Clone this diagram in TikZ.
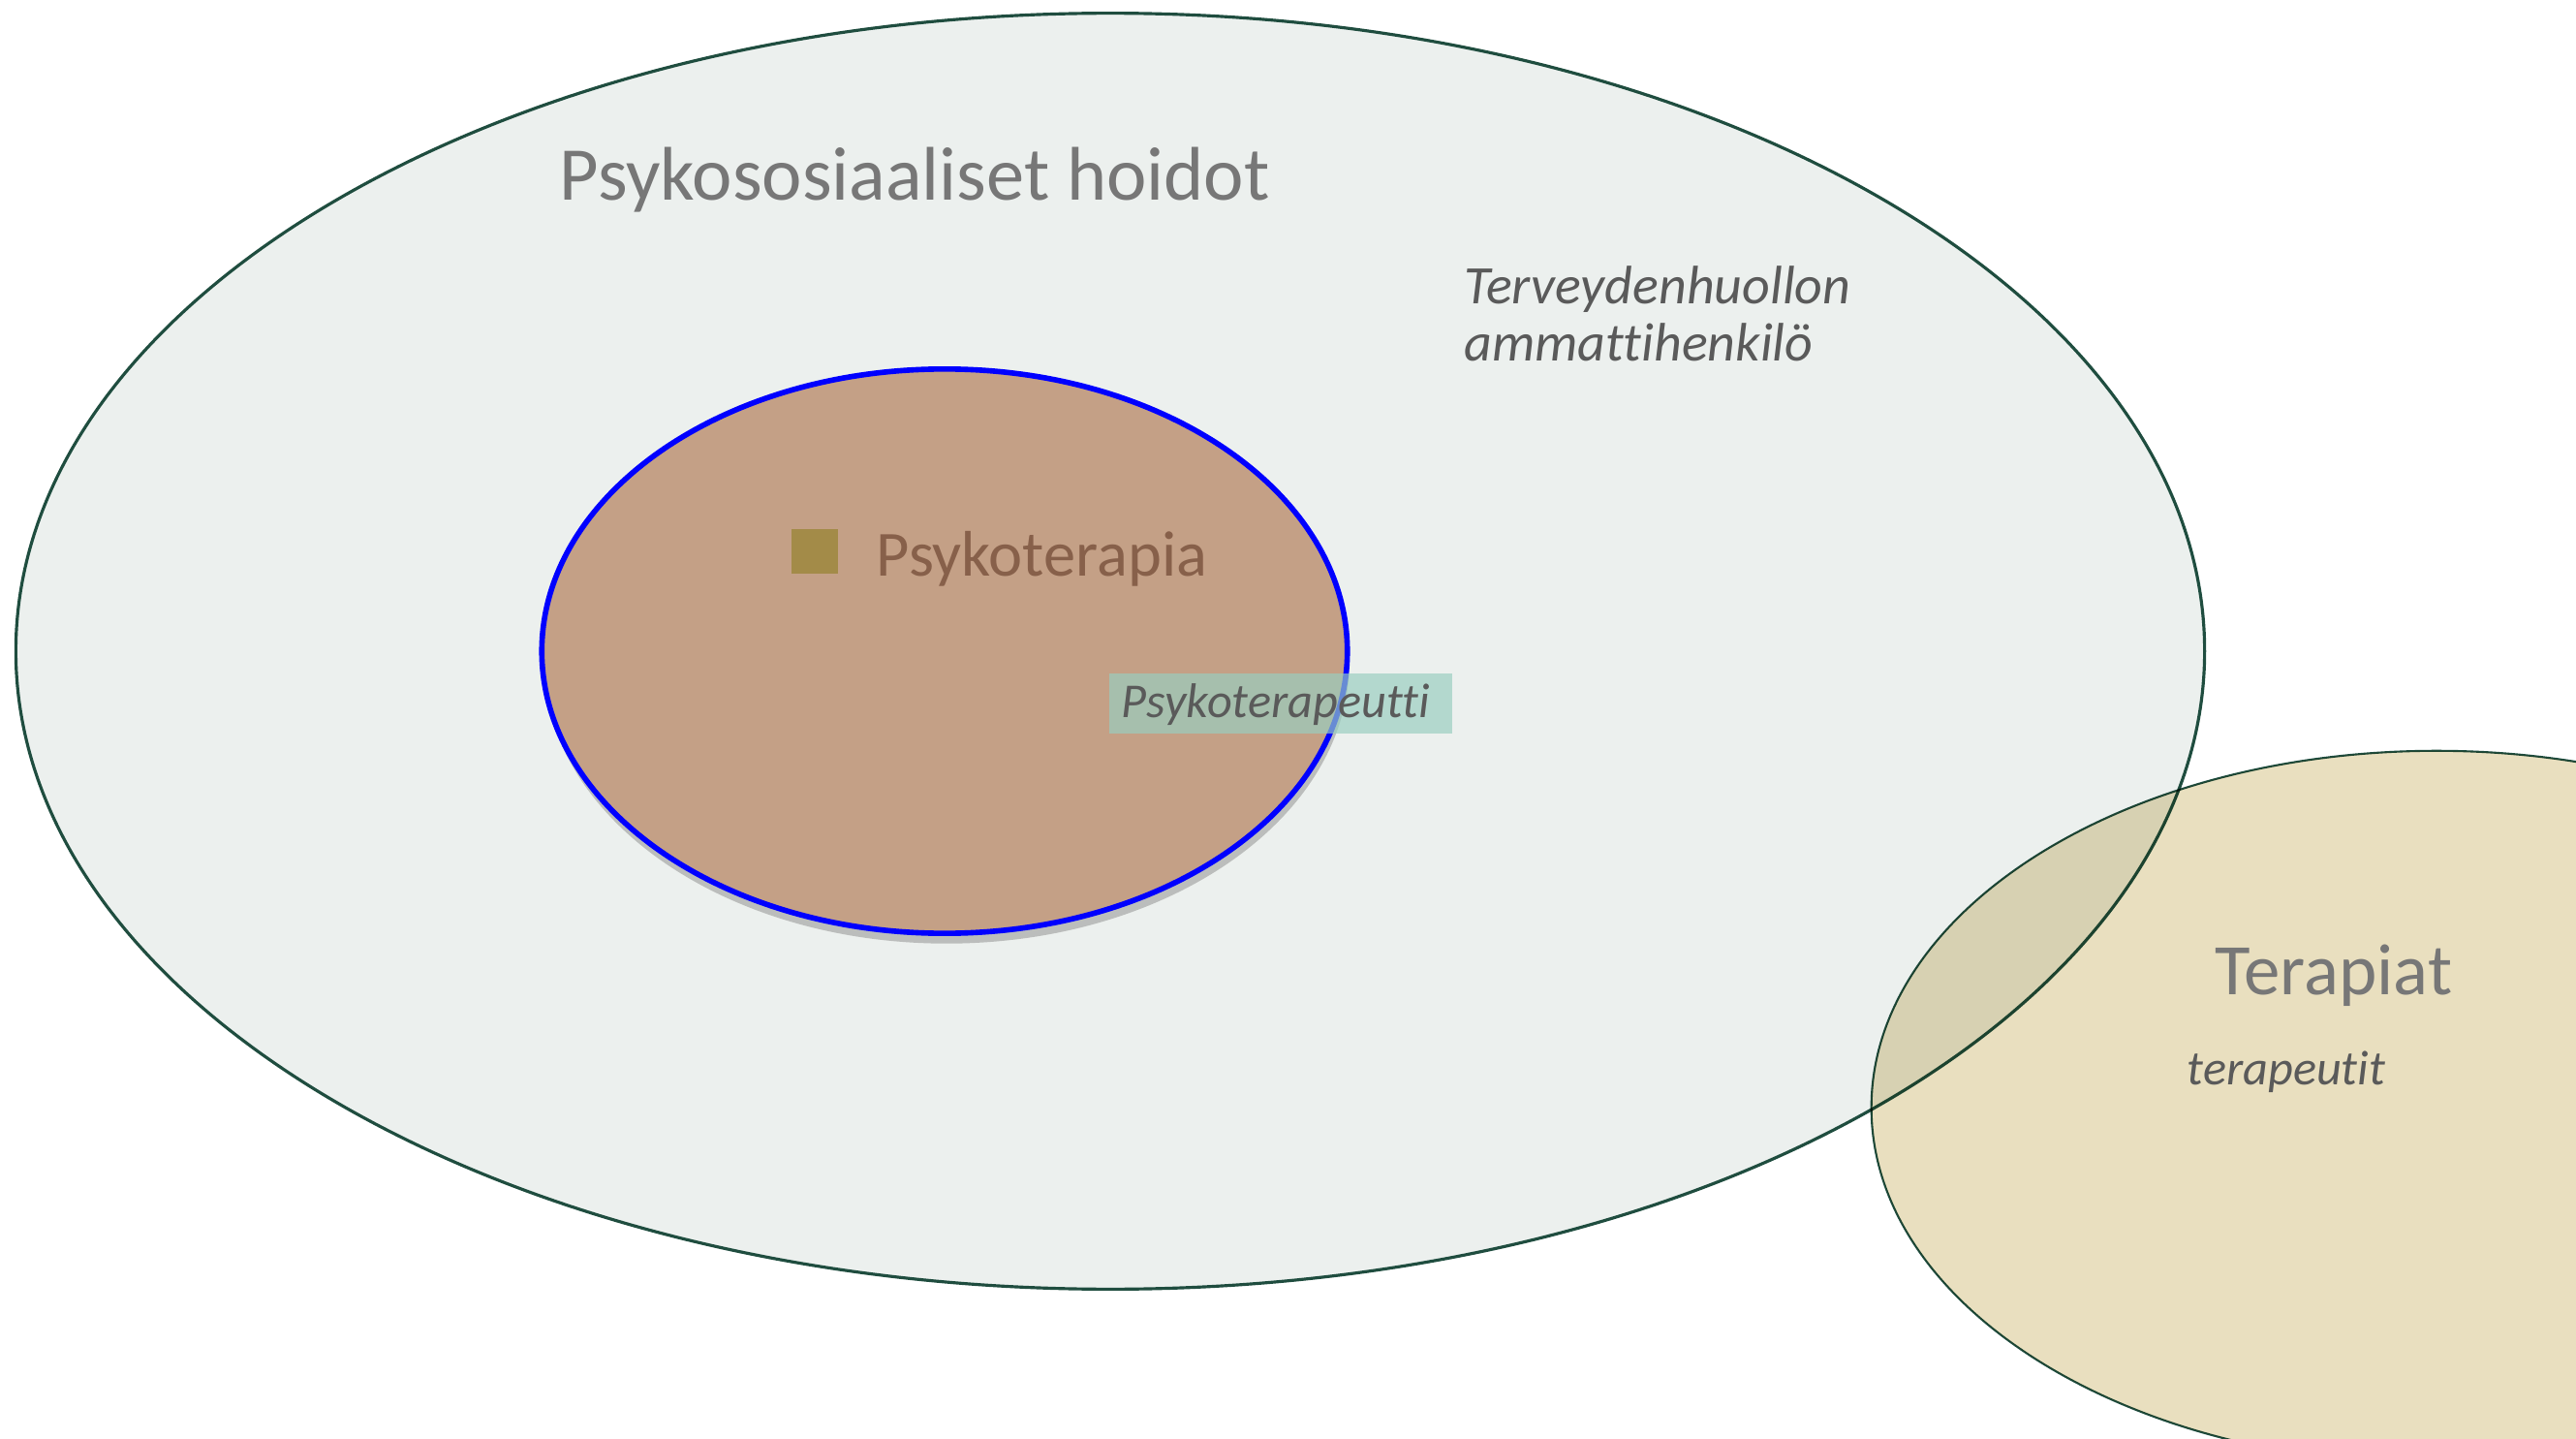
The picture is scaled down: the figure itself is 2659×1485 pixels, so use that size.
\documentclass[tikz,border=0pt]{standalone}
\usepackage{fontspec}
\setmainfont{Carlito}[Ligatures=NoCommon]
\usepackage{tikz}
\usetikzlibrary{shapes.geometric, shadows}
\definecolor{bigfill}{HTML}{ECF0EE}
\definecolor{edge}{HTML}{1F4D3F}
\definecolor{innerfill}{HTML}{C4A086}
\definecolor{terfill}{HTML}{E9DFBF}
\definecolor{boxfill}{HTML}{99CEC0}
\definecolor{titlegray}{HTML}{777777}
\definecolor{labelgray}{HTML}{5A5A5A}
\definecolor{brownText}{HTML}{87604A}
\definecolor{bullet}{HTML}{A38B48}

\begin{document}
\begin{tikzpicture}[
        x=0.01cm, y=-0.01cm,
        area/.style={ellipse, draw=edge, line width=0.9pt, inner sep=0pt},
        heading/.style={anchor=base west, inner sep=0pt, text=titlegray},
        role/.style={anchor=base west, inner sep=0pt, text=labelgray, font=\itshape\fontsize{14.3}{16}\selectfont}
    ]
        \useasboundingbox (0,0) rectangle (2659,1485);

        % OUTER AREA
        \node[area, fill=bigfill, minimum width=22.58cm, minimum height=13.16cm] (hoidot) at (1146,672) {};
        \node[heading, font=\fontsize{22.3}{26}\selectfont] (hoidot_title) at (577,207) {Psykososiaaliset hoidot};
        \node[role, align=left, font=\itshape\fontsize{15.9}{16.8}\selectfont] (ammatti) at (1511,373) {Terveydenhuollon\\ammattihenkilö};

        % INNER AREA
        \node[area, fill=innerfill, draw=blue, line width=1.6pt, minimum width=8.31cm, minimum height=5.82cm,
              drop shadow={opacity=0.45, shadow xshift=0.6pt, shadow yshift=-3pt}] (terapia) at (975,672) {};
        \node[fill=bullet, minimum width=0.48cm, minimum height=0.46cm, inner sep=0pt] (bullet_sq) at (841,569) {};
        \node[heading, text=brownText, font=\fontsize{18.9}{22}\selectfont] (terapia_title) at (904,594) {Psykoterapia};
        \node[fill=boxfill, fill opacity=0.68, minimum width=3.54cm, minimum height=0.62cm, inner sep=0pt] (terapeutti_box) at (1322,726) {};
        \node[role] (terapeutti) at (1157,740) {Psykoterapeutti};

        % THERAPIES AREA
        \begin{scope}
            \clip (0,0) rectangle (2659,1485);
            \begin{scope}[blend mode=multiply]
                \node[area, fill=terfill, line width=0.6pt, minimum width=11.66cm, minimum height=7.36cm] (terapiat) at (2515,1143) {};
            \end{scope}
        \end{scope}
        \node[heading, font=\fontsize{21.3}{25}\selectfont] (terapiat_title) at (2286,1026) {Terapiat};
        \node[role] (terapeutit) at (2257,1119) {terapeutit};
    \end{tikzpicture}
\end{document}
